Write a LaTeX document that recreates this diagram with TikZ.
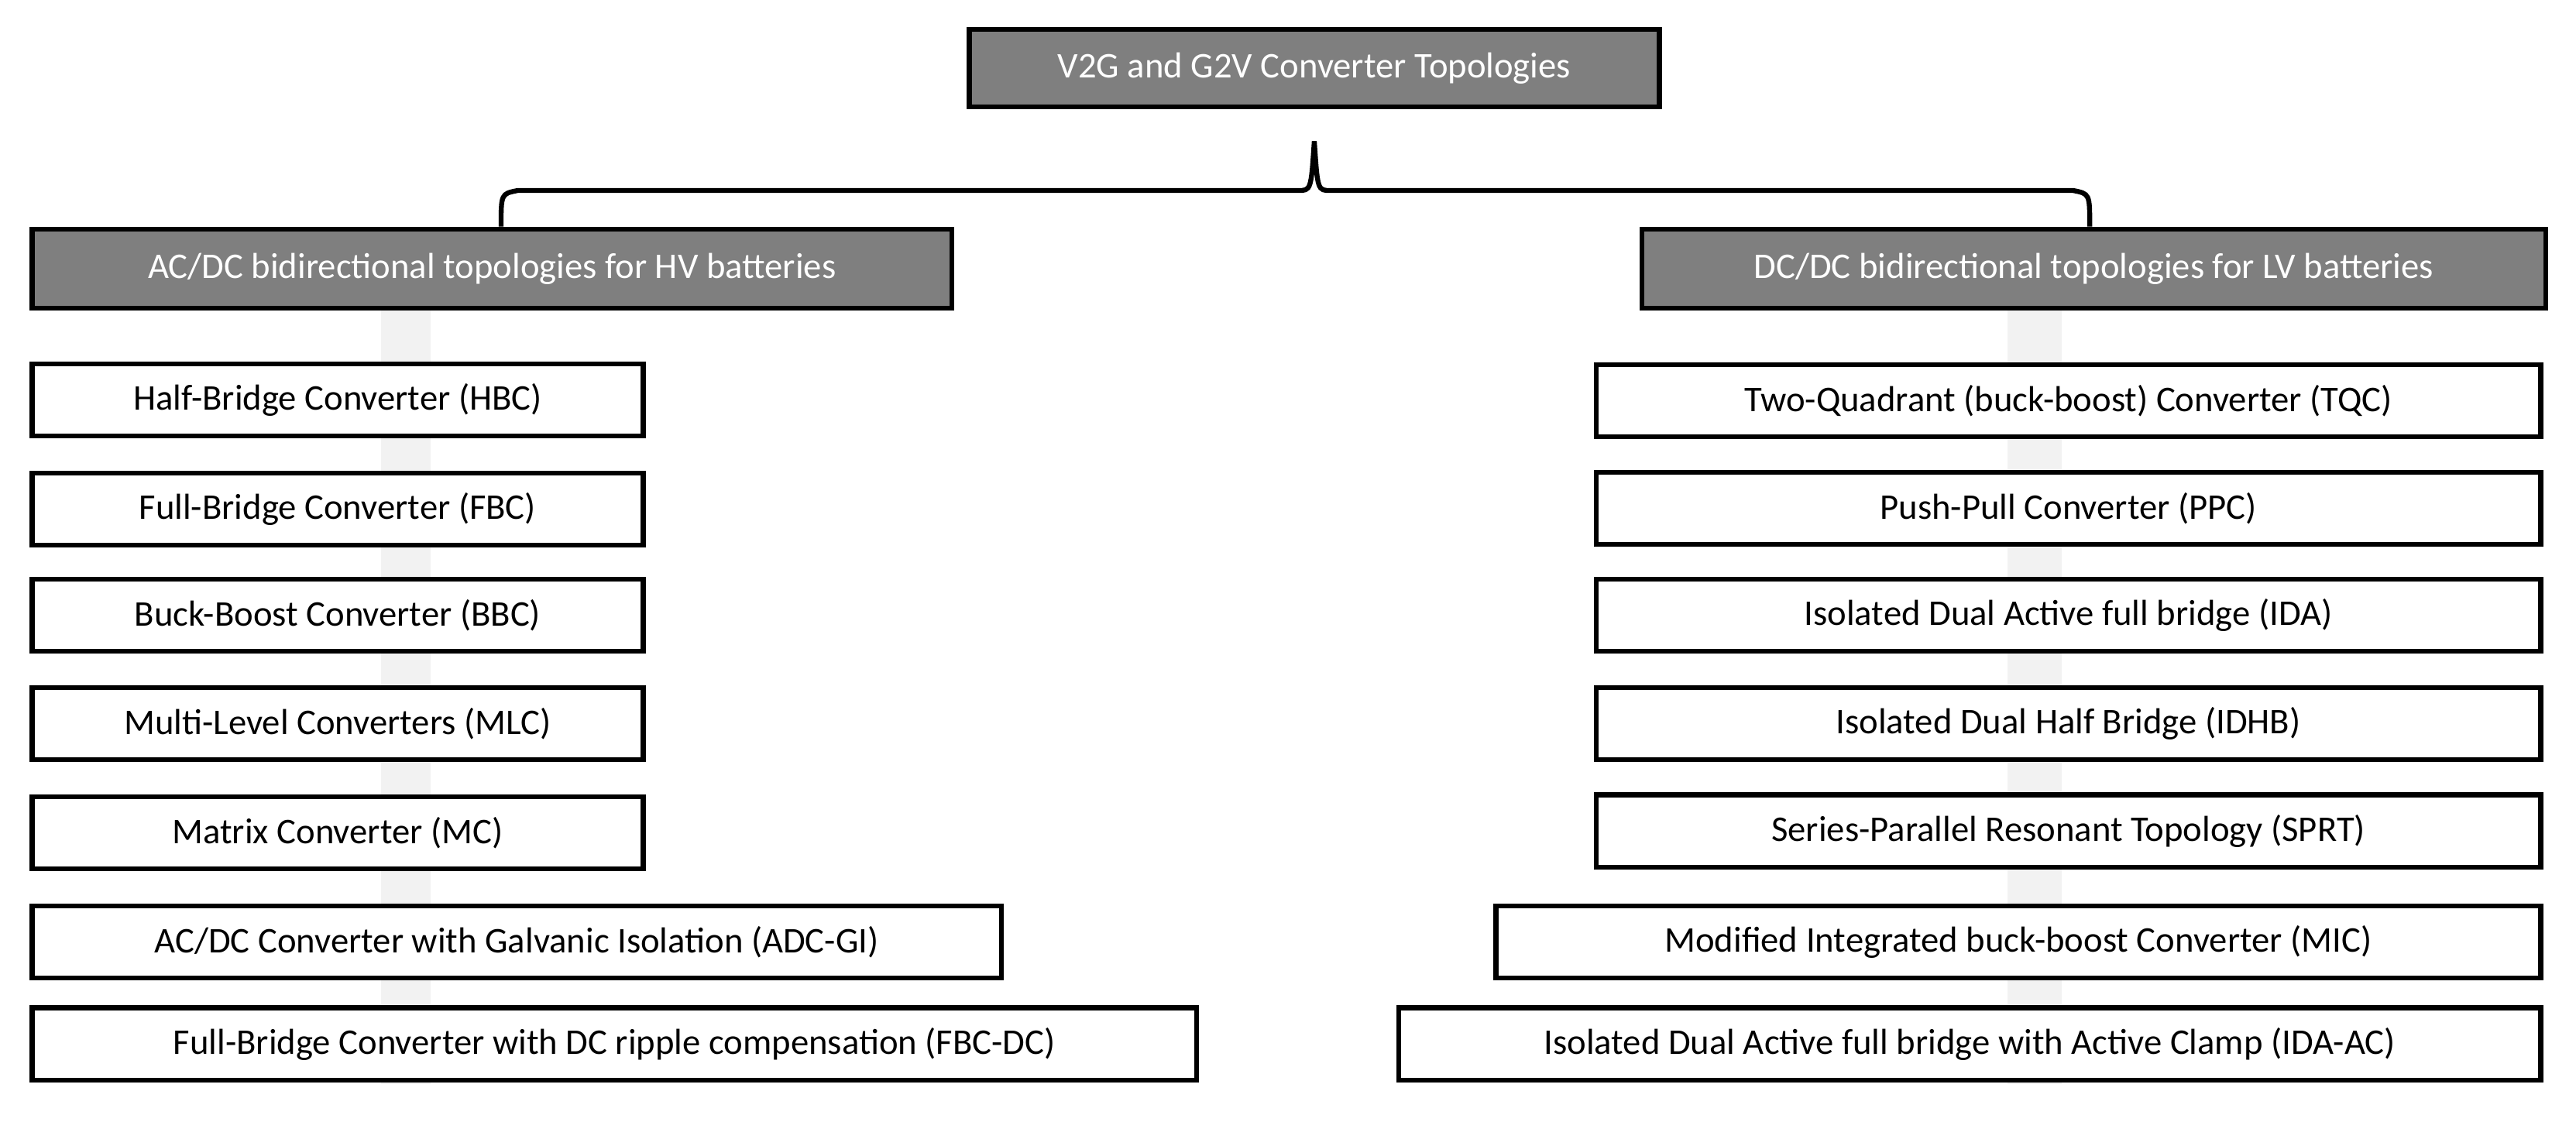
\documentclass[tikz,border=0pt]{standalone}
\usepackage{fontspec}
\setmainfont{Carlito}
\begin{document}
\begin{tikzpicture}[x=1pt,y=-1pt,
 hd/.style={draw=black,line width=3pt,fill=headgray,text=white,inner sep=0pt,font=\fontsize{22}{24}\selectfont},
 bx/.style={draw=black,line width=3pt,fill=white,inner sep=0pt,font=\fontsize{22}{24}\selectfont}]
\definecolor{headgray}{RGB}{127,127,127}
\definecolor{strip}{RGB}{242,242,242}
\useasboundingbox (0,0) rectangle (1568,683);
\fill[strip] (232,186) rectangle (262,660);
\fill[strip] (1222,186) rectangle (1255,660);
\node[hd,minimum width=420,minimum height=47] (top) at (800,41.5) {V2G and G2V Converter Topologies};
\node[hd,minimum width=560,minimum height=48,anchor=north west] (L) at (18,138) {AC/DC bidirectional topologies for HV batteries};
\node[hd,minimum width=550,minimum height=48,anchor=north west] (R) at (998,138) {DC/DC bidirectional topologies for LV batteries};
\coordinate (bl) at (305,138);
\coordinate (br) at (1272,138);
\coordinate (bc) at (800,86);
\draw[line width=3pt] (bl) .. controls (305,118) .. (315,116) -- (790,116) .. controls (798,116) .. (bc) .. controls (802,116) .. (810,116) -- (1262,116) .. controls (1272,118) .. (br);
\foreach \n/\t/\y/\w in {a/{Half-Bridge Converter (HBC)}/243.5/372, b/{Full-Bridge Converter (FBC)}/310/372, c/{Buck-Boost Converter (BBC)}/374.5/372, d/{Multi-Level Converters (MLC)}/440.5/372, e/{Matrix Converter (MC)}/507/372, f/{AC/DC Converter with Galvanic Isolation (ADC-GI)}/573.5/590, g/{Full-Bridge Converter with DC ripple compensation (FBC-DC)}/635.5/709}
  \node[bx,minimum width=\w,minimum height=44,anchor=west] (l\n) at (18,\y) {\t};
\foreach \n/\t/\y/\x in {a/{Two-Quadrant (buck-boost) Converter (TQC)}/244/973, b/{Push-Pull Converter (PPC)}/309.5/973, c/{Isolated Dual Active full bridge (IDA)}/374.5/973, d/{Isolated Dual Half Bridge (IDHB)}/440.5/973, e/{Series-Parallel Resonant Topology (SPRT)}/506/973, f/{Modified Integrated buck-boost Converter (MIC)}/573.5/912, g/{Isolated Dual Active full bridge with Active Clamp (IDA-AC)}/635.5/853}
  \node[bx,minimum width={1548-\x},minimum height=44,anchor=east] (r\n) at (1548,\y) {\t};
\end{tikzpicture}
\end{document}
